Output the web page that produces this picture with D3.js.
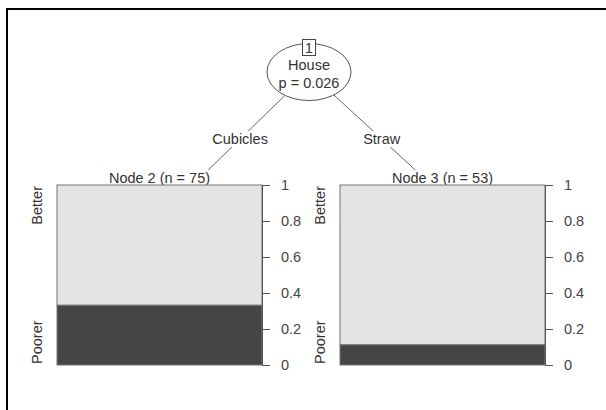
<!DOCTYPE html>
<html><head><meta charset="utf-8">
<script src="https://cdn.jsdelivr.net/npm/d3@7"></script>
<style>body{margin:0;background:#fff}svg{display:block}text{font-family:"Liberation Sans",Arial,sans-serif}</style>
</head><body>
<svg id="c" width="606" height="410"></svg>
<script>
// ---- data ----
const splitVar = "House";
const splitP = "p = 0.026";
const rootId = "1";
const edgeLabels = ["Cubicles", "Straw"];
const nodeIds = [2, 3];
const nodeN = [75, 53];
const levels = ["Better", "Poorer"];
const poorerShare = [0.333, 0.113];
const betterShare = [0.667, 0.887];
const tickValues = [0, 0.2, 0.4, 0.6, 0.8, 1];
const tickLabels = ["0", "0.2", "0.4", "0.6", "0.8", "1"];

const svg = d3.select("#c");
const textCol = "#333";

// frame
svg.append("path").attr("d", "M7,410 V9 H606").attr("fill", "none").attr("stroke", "#000").attr("stroke-width", 2);

// scales
const x = d3.scaleBand().domain(nodeIds).range([57, 545]).paddingInner(0.2756).paddingOuter(0);
const y = d3.scaleLinear().domain([0, 1]).range([365, 185]);

const root = {cx: 309, cy: 72};
const childTop = 178;
const childX = [200, 424];

// edges
nodeIds.forEach((id, i) => {
  svg.append("line").attr("x1", root.cx).attr("y1", root.cy).attr("x2", childX[i]).attr("y2", childTop)
    .attr("stroke", "#666").attr("stroke-width", 1);
});
// edge labels
const labY = 139;
nodeIds.forEach((id, i) => {
  const t = (labY - root.cy) / (childTop - root.cy);
  const lx = root.cx + t * (childX[i] - root.cx);
  const g = svg.append("g");
  const tx = g.append("text").attr("x", lx).attr("y", labY + 5).attr("text-anchor", "middle")
    .attr("font-size", 14.5).attr("fill", textCol).text(edgeLabels[i]);
  const bb = tx.node().getBBox();
  g.insert("rect", "text").attr("x", bb.x - 1).attr("y", bb.y).attr("width", bb.width + 2).attr("height", bb.height).attr("fill", "#fff");
});

// root node
svg.append("ellipse").attr("cx", root.cx).attr("cy", root.cy).attr("rx", 42).attr("ry", 28.5)
  .attr("fill", "#fff").attr("stroke", "#555").attr("stroke-width", 1);
svg.append("rect").attr("x", 302.5).attr("y", 39.5).attr("width", 13).attr("height", 16)
  .attr("fill", "#fff").attr("stroke", "#444").attr("stroke-width", 1);
svg.append("text").attr("x", 309).attr("y", 53).attr("text-anchor", "middle").attr("font-size", 14).attr("fill", textCol).text(rootId);
svg.append("text").attr("x", root.cx).attr("y", 70).attr("text-anchor", "middle").attr("font-size", 14.5).attr("fill", textCol).text(splitVar);
svg.append("text").attr("x", root.cx).attr("y", 88).attr("text-anchor", "middle").attr("font-size", 14.5).attr("fill", textCol).text(splitP);

// terminal panels
nodeIds.forEach((id, i) => {
  const x0 = x(id), w = x.bandwidth();
  // title
  const g = svg.append("g");
  const tt = g.append("text").attr("x", x0 + w / 2).attr("y", 183).attr("text-anchor", "middle")
    .attr("font-size", 14.5).attr("fill", textCol).text(`Node ${id} (n = ${nodeN[i]})`);
  const bb = tt.node().getBBox();
  g.insert("rect", "text").attr("x", bb.x).attr("y", bb.y).attr("width", bb.width).attr("height", y(1) - bb.y).attr("fill", "#fff");
  // stacked bar: Poorer at bottom, Better on top
  const segs = [
    {lo: 0, hi: poorerShare[i], fill: "#454545"},
    {lo: poorerShare[i], hi: poorerShare[i] + betterShare[i], fill: "#e4e4e4"}
  ];
  segs.forEach(s => {
    svg.append("rect").attr("x", x0).attr("y", y(s.hi)).attr("width", w).attr("height", y(s.lo) - y(s.hi))
      .attr("fill", s.fill).attr("stroke", "#777").attr("stroke-width", 1);
  });
  // level labels
  svg.append("text").attr("transform", `translate(${x0 - 15},${y(1) + 1}) rotate(-90)`)
    .attr("text-anchor", "end").attr("font-size", 14.5).attr("fill", textCol).text(levels[0]);
  svg.append("text").attr("transform", `translate(${x0 - 15},${y(0) - 1}) rotate(-90)`)
    .attr("text-anchor", "start").attr("font-size", 14.5).attr("fill", textCol).text(levels[1]);
  // axis
  const ax = svg.append("g").attr("transform", `translate(${x0 + w},0)`)
    .call(d3.axisRight(y).tickValues(tickValues).tickFormat((d, k) => tickLabels[k]).tickSize(8).tickSizeOuter(0).tickPadding(11));
  ax.select(".domain").attr("stroke", "#555");
  ax.selectAll(".tick line").attr("stroke", "#555");
  ax.selectAll(".tick text").attr("font-size", 14.5).attr("fill", "#444").attr("font-family", '"Liberation Sans",Arial,sans-serif');
});
</script>
</body></html>
